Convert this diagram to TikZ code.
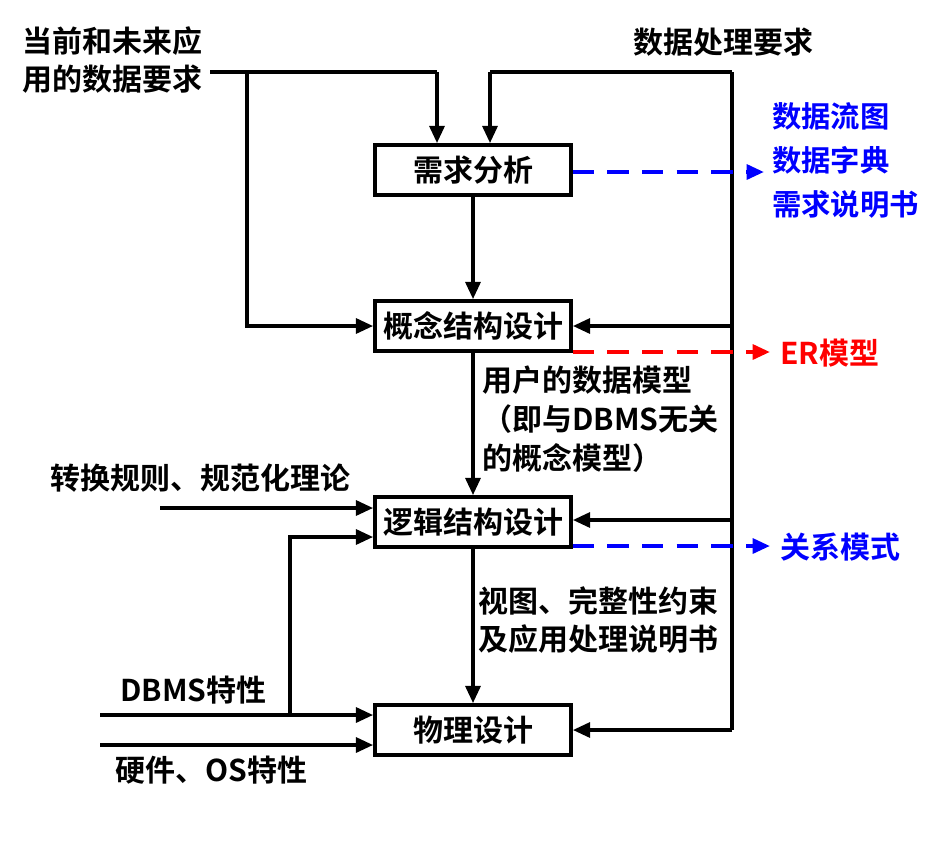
\documentclass[tikz,border=0pt]{standalone}
\usepackage{fontspec}
\setmainfont{Noto Sans CJK SC}[BoldFont={Noto Sans CJK SC Bold}]
\usetikzlibrary{arrows.meta}
\begin{document}
\begin{tikzpicture}[x=0.75pt,y=-0.75pt,
 ln/.style={line width=3pt},
 ar/.style={line width=3pt,-{Triangle[length=13pt,width=11pt]}},
 da/.style={line width=3pt,dash pattern=on 16pt off 10pt,-{Triangle[length=13pt,width=11pt]}},
 box/.style={draw,line width=2.6pt,minimum width=196*0.75pt,minimum height=50*0.75pt,font=\bfseries\fontsize{22.5}{24}\selectfont},
 tx/.style={font=\bfseries\fontsize{22.5}{29}\selectfont,align=left,inner sep=0pt}]
\useasboundingbox (0,0) rectangle (934,850);
\node[box] (a) at (473,170) {需求分析};
\node[box] (b) at (473,326) {概念结构设计};
\node[box] (c) at (473,522) {逻辑结构设计};
\node[box] (d) at (473,730) {物理设计};
\node[tx,anchor=north west] (t1) at (22,26) {当前和未来应\\用的数据要求};
\node[tx,anchor=west] (t2) at (633,42) {数据处理要求};
\node[tx,anchor=west] (t3) at (50,478) {转换规则、规范化理论};
\node[tx,anchor=west] (t4) at (120,690) {DBMS特性};
\node[tx,anchor=west] (t5) at (115,770) {硬件、OS特性};
\node[tx,anchor=north west] (l1) at (482,366) {用户的数据模型\\（即与DBMS无关\\的概念模型）};
\node[tx,anchor=north west] (l2) at (478,586) {视图、完整性约束\\及应用处理说明书};
\node[tx,anchor=north west,text=blue,font=\bfseries\fontsize{22}{26}\selectfont] (o1) at (772,102) {数据流图\\[7pt]数据字典\\[7pt]需求说明书};
\node[tx,anchor=west,text=red] (o2) at (780,353) {ER模型};
\node[tx,anchor=west,text=blue] (o3) at (780,547) {关系模式};
\coordinate (p1) at (210,72); \coordinate (p2) at (437,72);
\coordinate (q1) at (732,72); \coordinate (q2) at (490,72); \coordinate (q3) at (732,730);
\draw[ln] (p1) -- (p2);
\draw[ar] (p2) -- (a.north -| p2);
\draw[ar] (247,72) |- (b.west);
\draw[ln] (q1) -- (q3);
\draw[ln] (q1) -- (q2);
\draw[ar] (q2) -- (a.north -| q2);
\draw[ar] (732,326) -- (b.east);
\draw[ar] (732,520) -- (c.east |- 0,520);
\draw[ar] (q3) -- (d.east);
\draw[ar] (a) -- (b);
\draw[ar] (b) -- (c);
\draw[ar] (c) -- (d);
\draw[ar] (160,508) -- (c.west |- 0,508);
\draw[ar] (100,715) -- (d.west |- 0,715);
\draw[ar] (290,715) |- (c.west |- 0,537);
\draw[ar] (100,745) -- (d.west |- 0,745);
\draw[da,blue] (a.east |- 0,172) -- (764,172);
\draw[da,red] (b.east |- 0,352) -- (770,352);
\draw[da,blue] (c.east |- 0,546) -- (770,546);
\end{tikzpicture}
\end{document}
